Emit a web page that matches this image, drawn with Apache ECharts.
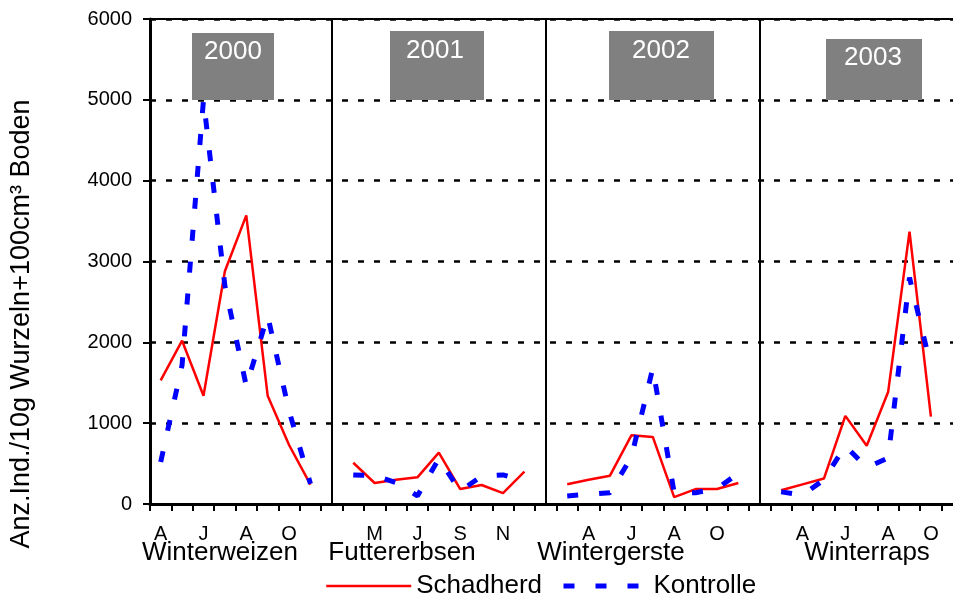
<!DOCTYPE html>
<html lang="de">
<head>
    <meta charset="UTF-8">
    <title>Schadherd / Kontrolle 2000-2003</title>
    <style>
        * {
            margin: 0;
        }

        body {
            background: #fff;
        }

        #main {
            width: 953px;
            height: 602px;
        }
    </style>
    <script src="https://cdn.jsdelivr.net/npm/echarts@6/dist/echarts.min.js"></script>
</head>
<body>
<div id="main"></div>
<script>
    // one category per month, four panels side by side (panel gaps carry no data)
    var monthLabels = [
        'A', '', 'J', '', 'A', '', 'O', '', '',
        '', 'M', '', 'J', '', 'S', '', 'N', '', '',
        '', 'A', '', 'J', '', 'A', '', 'O', '', '',
        '', 'A', '', 'J', '', 'A', '', 'O', ''
    ];
    var schadherd = [
        1530, 2020, 1340, 2880, 3570, 1340, 730, 240, null,
        510, 260, 300, 330, 635, 185, 235, 135, 400, null,
        245, 300, 350, 850, 830, 85, 185, 185, 260, null,
        170, 243, 315, 1090, 720, 1385, 3370, 1080, null
    ];
    var kontrolle = [
        520, 1720, 5000, 2700, 1460, 2330, 1150, 250, null,
        360, 350, 265, 100, 560, 160, 345, 360, 285, null,
        100, 120, 140, 580, 1680, 140, 140, 190, 380, null,
        150, 110, 300, 720, 450, 570, 2800, 1700, null
    ];
    var dividers = [8, 18, 28];
    var yearLabels = ['2000', '2001', '2002', '2003'];
    var cropNames = ['Winterweizen', 'Futtererbsen', 'Wintergerste', 'Winterraps'];
    var yName = 'Anz.Ind./10g Wurzeln+100cm³ Boden';

    var categories = monthLabels.map(function (m, i) {
        return 'c' + i;
    });

    var FONT = '"Liberation Sans", Arial, sans-serif';

    // page layout of the year boxes and crop names (pixels)
    var yearBoxes = [
        {x: 192, y: 33, w: 82, h: 67, tx: 233, ty: 52},
        {x: 390, y: 31, w: 94, h: 69, tx: 435, ty: 51},
        {x: 609, y: 31, w: 105, h: 69, tx: 661, ty: 51},
        {x: 826, y: 39, w: 96, h: 61, tx: 873, ty: 58}
    ];
    var cropX = [220, 402, 611, 867];

    var graphics = [];
    yearLabels.forEach(function (label, i) {
        var b = yearBoxes[i];
        graphics.push({
            type: 'rect', z: 10,
            shape: {x: b.x, y: b.y, width: b.w, height: b.h},
            style: {fill: '#808080'}
        });
        graphics.push({
            type: 'text', z: 11, x: b.tx, y: b.ty,
            style: {
                text: label, fill: '#fff', font: '26px ' + FONT,
                align: 'center', verticalAlign: 'middle',
                textAlign: 'center', textVerticalAlign: 'middle'
            }
        });
    });
    cropNames.forEach(function (name, i) {
        graphics.push({
            type: 'text', z: 11, x: cropX[i], y: 553,
            style: {
                text: name, fill: '#000', font: '26px ' + FONT,
                align: 'center', verticalAlign: 'middle',
                textAlign: 'center', textVerticalAlign: 'middle'
            }
        });
    });
    graphics.push({
        type: 'text', z: 11, x: 22, y: 324, rotation: Math.PI / 2,
        style: {
            text: yName, fill: '#000', font: '27px ' + FONT,
            align: 'center', verticalAlign: 'middle',
            textAlign: 'center', textVerticalAlign: 'middle'
        }
    });

    var markLines = dividers.map(function (d) {
        return {xAxis: d};
    });
    markLines.push({yAxis: 6000});

    var noSymbol = {color: 'rgba(0,0,0,0)', opacity: 0, borderWidth: 0};

    var myChart = echarts.init(document.getElementById('main'));
    var option = {
        animation: false,
        backgroundColor: '#fff',
        textStyle: {fontFamily: FONT},
        grid: {left: 150, top: 19, right: -10, bottom: 98, outerBoundsMode: 'none', containLabel: false},
        legend: {
            left: 325,
            top: 573,
            padding: 0,
            itemWidth: 85,
            itemHeight: 14,
            itemGap: 19,
            textStyle: {fontSize: 26, lineHeight: 26, color: '#000', fontFamily: FONT},
            data: [
                {name: 'Schadherd', itemStyle: noSymbol, lineStyle: {width: 2.5, type: 'solid', color: '#ff0000'}},
                {name: 'Kontrolle', itemStyle: noSymbol, lineStyle: {width: 5, type: [11, 21], color: '#0000ff'}}
            ]
        },
        xAxis: {
            type: 'category',
            data: categories,
            boundaryGap: true,
            axisLine: {lineStyle: {color: '#000', width: 3}},
            axisTick: {show: true, interval: 0, length: 7, lineStyle: {color: '#000', width: 2}},
            axisLabel: {
                interval: 0,
                margin: 20,
                fontSize: 20,
                lineHeight: 20,
                color: '#000',
                fontFamily: FONT,
                formatter: function (v, i) {
                    return monthLabels[i];
                }
            },
            splitLine: {show: false}
        },
        yAxis: {
            type: 'value',
            min: 0,
            max: 6000,
            interval: 1000,
            axisLine: {show: true, lineStyle: {color: '#000', width: 3}},
            axisTick: {show: true, length: 7, lineStyle: {color: '#000', width: 2}},
            axisLabel: {
                margin: 18, fontSize: 20, color: '#000', fontFamily: FONT,
                formatter: function (v) {
                    return String(v);
                }
            },
            splitLine: {lineStyle: {color: '#000', width: 2.5, type: [6, 10]}}
        },
        graphic: graphics,
        series: [
            {
                name: 'Schadherd',
                type: 'line',
                data: schadherd,
                symbol: 'none',
                connectNulls: false,
                lineStyle: {color: '#ff0000', width: 2.5},
                itemStyle: {color: '#ff0000'},
                markLine: {
                    silent: true,
                    symbol: 'none',
                    label: {show: false},
                    lineStyle: {color: '#000', width: 2, type: 'solid'},
                    data: markLines
                }
            },
            {
                name: 'Kontrolle',
                type: 'line',
                data: kontrolle,
                symbol: 'none',
                connectNulls: false,
                lineStyle: {color: '#0000ff', width: 5, type: [11, 21], cap: 'butt'},
                itemStyle: {color: '#0000ff'}
            }
        ]
    };
    myChart.setOption(option);
</script>
</body>
</html>
